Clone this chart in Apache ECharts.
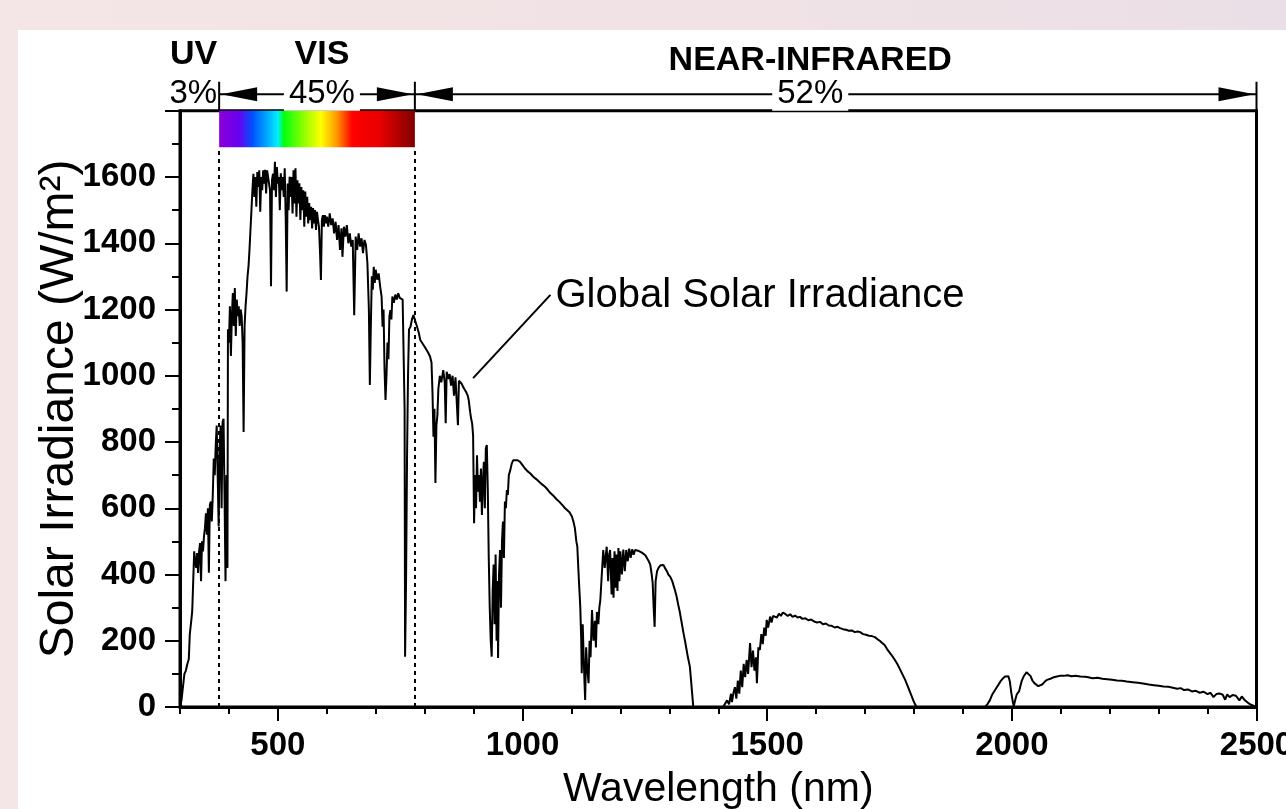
<!DOCTYPE html>
<html>
<head>
<meta charset="utf-8">
<script src="https://cdn.jsdelivr.net/npm/echarts@6/dist/echarts.min.js"></script>
<style>
  html, body { margin: 0; padding: 0; width: 1286px; height: 809px; overflow: hidden;
    background: linear-gradient(90deg, #f4e6e6 0%, #f1e3e5 50%, #ebdfe7 100%); }
  #chart { position: absolute; left: 18px; top: 30px; width: 1268px; height: 779px; background: #ffffff; }
</style>
</head>
<body>
<div id="chart"></div>
<script>
// ---- Data (wavelength nm, irradiance) ----
const spectrumUV = [[300,0],[303,20],[306,60],[309,100],[312,110],[315,130],[318,145],[320,220],[323,260],[325,290],[327,380],[329,470],[331,440],[333,420],[335,465],[337,405],[339,470],[341,495],[343,380],[345,500],[347,470],[349,515],[351,540],[353,585],[355,520],[357,600],[359,405],[361,610],[363,620],[365,560],[367,640],[369,750],[371,700],[373,790],[375,850],[377,700],[379,545],[381,780],[383,850],[385,600],[387,860],[389,870],[391,640],[393,380],[395,700],[397,420]];
const spectrumVIS = [[398,1140],[400,1100],[402,1210],[404,1060],[406,1180],[408,1250],[410,1150],[412,1265],[414,1120],[416,1230],[418,1180],[420,1210],[422,1150],[424,1200],[426,1180],[428,1100],[430,830],[432,1150],[434,1210],[436,1250],[438,1300],[440,1330],[442,1380],[444,1440],[446,1500],[448,1560],[450,1610],[452,1540],[454,1600],[456,1510],[458,1615],[460,1570],[462,1620],[464,1495],[466,1600],[468,1560],[470,1620],[472,1580],[474,1622],[476,1550],[478,1620],[480,1600],[482,1580],[484,1560],[486,1270],[488,1590],[490,1610],[492,1560],[494,1646],[496,1540],[498,1630],[500,1580],[502,1600],[504,1500],[506,1611],[508,1560],[510,1600],[512,1540],[514,1626],[516,1480],[518,1254],[520,1580],[522,1500],[524,1601],[526,1540],[528,1600],[530,1490],[532,1620],[534,1520],[536,1626],[538,1480],[540,1590],[542,1520],[544,1581],[546,1470],[548,1570],[550,1500],[552,1560],[554,1450],[556,1556],[558,1480],[560,1540],[562,1460],[564,1521],[566,1470],[568,1510],[570,1445],[572,1506],[574,1460],[576,1500],[578,1440],[580,1495],[582,1470],[584,1450],[586,1380],[588,1289],[590,1470],[592,1485],[594,1450],[596,1485],[598,1460],[600,1480],[603,1450],[606,1490],[609,1455],[612,1475],[615,1430],[618,1465],[621,1410],[624,1455],[627,1380],[630,1445],[632,1359],[635,1450],[638,1420],[641,1455],[644,1400],[647,1430],[650,1390],[653,1410],[656,1183],[659,1420],[662,1380],[665,1430],[668,1390],[671,1415],[674,1370],[677,1410],[680,1395],[683,1340],[686,1200],[688,972],[690,1150],[692,1300],[694,1260],[696,1329],[698,1280],[700,1320],[703,1290],[706,1309],[709,1270],[712,1239],[714,1148],[716,1200],[718,1020],[720,927],[722,1000],[724,1100],[726,1050],[728,1180],[730,1198],[732,1170],[734,1239],[737,1220],[740,1245],[743,1230],[746,1249],[749,1235],[752,1240],[755,1230],[757,1229],[759,900],[760,152],[762,380],[764,755],[766,1000],[768,1140],[771,1148],[774,1170],[777,1183],[780,1180]];
const spectrumNIR1 = [[784,1150],[788,1130],[791,1108],[795,1110],[799,1090],[803,1080],[807,1070],[811,1058],[814,1040],[816,950],[818,816],[820,900],[822,676],[824,850],[826,880],[828,960],[831,1000],[834,980],[838,1017],[841,980],[843,857],[845,1012],[848,990],[851,1005],[854,970],[857,1000],[860,940],[863,995],[866,997],[868,851],[870,985],[873,980],[876,975],[879,965],[882,960],[885,950],[888,940],[890,927],[893,890],[895,870],[897,857],[899,820],[901,555],[903,700],[905,600],[907,760],[909,650],[911,700],[913,620],[915,720],[917,580],[919,680],[921,740],[923,600],[925,780],[927,791],[929,660],[931,450],[933,300],[935,200],[937,152],[939,350],[941,430],[943,250],[945,460],[947,200],[949,380],[950,148],[952,400],[954,474],[956,300],[958,500],[960,560],[962,450],[964,620],[966,600],[968,655],[970,640],[972,700],[975,715],[978,735],[981,745],[985,751],[990,745],[995,740],[1000,730],[1005,720],[1010,712],[1016,705],[1022,695],[1028,688],[1034,680],[1040,672],[1046,665],[1052,655],[1057,646],[1063,638],[1069,628],[1075,620],[1081,610],[1087,600],[1091,595],[1096,588],[1101,575],[1104,560],[1107,540],[1110,500],[1112,484],[1114,420],[1116,360],[1118,303],[1120,200],[1121,102],[1123,250],[1125,150],[1127,60],[1128,21],[1130,180],[1132,120],[1135,72],[1137,200],[1139,150],[1142,293],[1145,200],[1148,260],[1150,180],[1152,287],[1155,250],[1157,300],[1159,323],[1162,400],[1165,474],[1168,420],[1172,484],[1175,380],[1177,460],[1179,474],[1182,340],[1184,450],[1186,330],[1188,470],[1190,360],[1192,460],[1194,350],[1196,480],[1198,380],[1200,470],[1203,400],[1206,475],[1209,410],[1212,474],[1215,440],[1218,478],[1221,450],[1224,476],[1227,460],[1230,474],[1233,470],[1236,472],[1240,469],[1244,466],[1248,462],[1251,458],[1254,459],[1258,440],[1261,430],[1264,400],[1266,374],[1268,300],[1270,242],[1272,380],[1275,410],[1278,420],[1282,428],[1285,430],[1288,429],[1291,420],[1295,410],[1298,400],[1302,393],[1306,380],[1309,365],[1312,350],[1315,333],[1318,310],[1321,290],[1324,265],[1327,240],[1329,223],[1332,200],[1335,175],[1338,150],[1342,122],[1345,70],[1349,0]];
const spectrumNIR2 = [[1410,0],[1414,0],[1418,20],[1422,8],[1426,40],[1428,15],[1431,42],[1434,60],[1437,25],[1440,80],[1443,40],[1446,110],[1449,60],[1452,130],[1455,90],[1458,142],[1461,100],[1465,193],[1468,120],[1471,170],[1474,110],[1477,150],[1479,72],[1482,180],[1485,172],[1488,220],[1491,190],[1494,240],[1497,215],[1499,263],[1502,240],[1506,273],[1509,255],[1512,275],[1516,278],[1520,270],[1524,282],[1528,275],[1532,285],[1537,281],[1542,275],[1547,280],[1552,272],[1557,276],[1562,270],[1567,272],[1572,266],[1578,268],[1584,262],[1590,264],[1596,258],[1602,255],[1608,257],[1614,250],[1620,252],[1626,246],[1632,245],[1638,240],[1644,242],[1649,238],[1655,235],[1661,233],[1667,230],[1673,231],[1679,226],[1685,228],[1690,226],[1696,220],[1702,218],[1708,215],[1714,214],[1720,211],[1725,205],[1730,200],[1735,193],[1740,187],[1745,175],[1750,165],[1755,155],[1761,142],[1766,130],[1771,115],[1776,100],[1782,82],[1788,60],[1792,45],[1796,30],[1800,15],[1805,0]];
const spectrumNIR3 = [[1945,0],[1950,8],[1955,20],[1960,38],[1966,52],[1972,66],[1977,78],[1981,85],[1986,92],[1990,96],[1993,93],[1996,76],[1999,42],[2002,15],[2004,3],[2007,22],[2010,38],[2015,48],[2020,78],[2024,92],[2027,98],[2030,105],[2034,100],[2038,94],[2042,80],[2046,72],[2050,66],[2054,63],[2057,60],[2062,68],[2067,76],[2072,82],[2080,86],[2086,90],[2092,92],[2098,94],[2106,94],[2114,96],[2122,93],[2130,94],[2140,92],[2150,91],[2156,90],[2165,87],[2175,88],[2185,85],[2195,84],[2205,82],[2215,80],[2225,79],[2235,77],[2247,75],[2258,73],[2268,71],[2280,68],[2290,66],[2300,64],[2310,62],[2320,61],[2329,58],[2338,55],[2345,57],[2352,51],[2360,53],[2368,47],[2376,49],[2384,43],[2392,46],[2400,39],[2406,43],[2412,30],[2418,39],[2424,41],[2431,37],[2436,22],[2440,38],[2445,30],[2451,36],[2458,34],[2465,20],[2470,32],[2475,22],[2479,16],[2485,10],[2490,6],[2500,0]];

// ---- Axis ticks / labels ----
const xMajorTicks = [500, 1000, 1500, 2000, 2500];
const xMinorTicks = [300, 400, 600, 700, 800, 900, 1100, 1200, 1300, 1400, 1600, 1700, 1800, 1900, 2100, 2200, 2300, 2400];

// ---- Band annotations ----
const bandBounds = [380, 780, 2500];          // UV|VIS, VIS|NIR, end of NIR
const bandNames = ['UV', 'VIS', 'NEAR-INFRARED'];
const bandShares = ['3%', '45%', '52%'];
const bandLabelNm = [380, 590, 1588];          // where each band's label sits
const visBarRange = [380, 780, 1690];          // colour bar: from nm, to nm, bottom value
const spectrumStops = [0, 0.1, 0.17, 0.25, 0.3, 0.33, 0.42, 0.52, 0.6, 0.68, 0.82, 1];
const spectrumColors = ['#8a00d8', '#6a00f0', '#0050ff', '#00b0ff', '#00f0ff', '#00ff10', '#80ff00', '#ffff00', '#ff9900', '#ff0000', '#e80000', '#800000'];

// ---- Leader annotation ----
const leaderFrom = [899, 993];
const leaderTo = [1057, 1244];
const leaderText = 'Global Solar Irradiance';

const FONT = "'Liberation Sans', Arial, sans-serif";
const spectrum = spectrumUV.concat(spectrumVIS, spectrumNIR1, spectrumNIR2, spectrumNIR3);

const chart = echarts.init(document.getElementById('chart'), null, { renderer: 'canvas' });

const option = {
  animation: false,
  backgroundColor: '#ffffff',
  grid: { left: 162, right: 29.5, top: 80.75, bottom: 102, outerBoundsMode: 'none', containLabel: false,
    show: true, borderColor: '#000', borderWidth: 3, backgroundColor: 'transparent' },
  xAxis: [
    {
      type: 'value', min: 300, max: 2500, position: 'bottom',
      name: 'Wavelength (nm)', nameLocation: 'middle', nameGap: 62, nameMoveOverlap: false,
      nameTextStyle: { fontFamily: FONT, fontSize: 41, color: '#000' },
      axisLine: { show: true, lineStyle: { color: '#000', width: 3 } },
      axisTick: { show: true, customValues: xMajorTicks, length: 14, lineStyle: { color: '#000', width: 2 } },
      axisLabel: { show: true, customValues: xMajorTicks, margin: 22, fontFamily: FONT, fontSize: 33, fontWeight: 'bold', color: '#000',
        formatter: v => String(v) },
      splitLine: { show: false }
    },
    {
      type: 'value', min: 300, max: 2500, position: 'bottom', gridIndex: 0,
      axisLine: { show: false },
      axisTick: { show: true, customValues: xMinorTicks, length: 7, lineStyle: { color: '#000', width: 2 } },
      axisLabel: { show: false },
      splitLine: { show: false }
    }
  ],
  yAxis: {
    type: 'value', min: 0, max: 1800, interval: 200,
    name: 'Solar Irradiance (W/m²)', nameLocation: 'middle', nameGap: 96, nameMoveOverlap: false,
    nameTextStyle: { fontFamily: FONT, fontSize: 48, color: '#000' },
    axisLine: { show: true, lineStyle: { color: '#000', width: 3 } },
    axisTick: { show: true, length: 15, lineStyle: { color: '#000', width: 2 } },
    minorTick: { show: true, splitNumber: 2, length: 8, lineStyle: { color: '#000', width: 2 } },
    axisLabel: { margin: 24, fontFamily: FONT, fontSize: 33, fontWeight: 'bold', color: '#000',
      formatter: v => (v === 1800 ? '' : String(v)) },
    splitLine: { show: false }
  },
  series: [{
    type: 'line',
    name: 'Global Solar Irradiance',
    data: spectrum,
    xAxisIndex: 0, yAxisIndex: 0,
    showSymbol: false, symbol: 'none',
    lineStyle: { color: '#000', width: 2 },
    silent: true,
    markArea: {
      silent: true,
      label: { show: false },
      data: [[
        { coord: [visBarRange[0], visBarRange[2]],
          itemStyle: { color: new echarts.graphic.LinearGradient(0, 0, 1, 0,
            spectrumStops.map((o, i) => ({ offset: o, color: spectrumColors[i] }))) } },
        { coord: [visBarRange[1], 1800] }
      ]]
    },
    markLine: {
      silent: true, symbol: ['none', 'none'],
      label: { show: false },
      data: [
        [{ coord: [bandBounds[0], 0], lineStyle: { color: '#000', width: 2, type: [4, 4] } }, { coord: [bandBounds[0], visBarRange[2]] }],
        [{ coord: [bandBounds[1], 0], lineStyle: { color: '#000', width: 2, type: [4, 4] } }, { coord: [bandBounds[1], visBarRange[2]] }],
        [{ coord: leaderFrom, lineStyle: { color: '#000', width: 2, type: 'solid' } }, { coord: leaderTo }]
      ]
    }
  }]
};
chart.setOption(option);

// ---- Header brackets and annotation text, positioned through the axes ----
function px(x, y) { return chart.convertToPixel({ xAxisIndex: 0, yAxisIndex: 0 }, [x, y]); }
const topY = px(300, 1800)[1];
const bx = bandBounds.map(b => px(b, 0)[0]);
const lineY = topY - 16.5;
const els = [];
const black = { stroke: '#000', lineWidth: 2 };
// vertical boundary markers
bx.forEach(x => els.push({ type: 'line', shape: { x1: x, y1: topY - 29, x2: x, y2: topY }, style: black }));
// horizontal bracket lines with arrowheads (VIS and NIR)
function arrow(xTip, dir) {
  const L = 36, H = 7;
  return { type: 'polygon', shape: { points: [[xTip, lineY], [xTip + dir * L, lineY - H], [xTip + dir * L, lineY + H]] }, style: { fill: '#000' } };
}
[[bx[0], bx[1]], [bx[1], bx[2]]].forEach(([a, b]) => {
  els.push({ type: 'line', shape: { x1: a, y1: lineY, x2: b, y2: lineY }, style: black });
  els.push(arrow(a + 2, 1));
  els.push(arrow(b - 2, -1));
});
// percent texts
const pctStyle = { font: `33px ${FONT}`, fill: '#000', verticalAlign: 'middle', backgroundColor: '#fff', padding: [0, 5] };
els.push({ type: 'text', z: 10, style: Object.assign({}, pctStyle, { text: bandShares[0], x: bx[0] - 2, y: lineY, align: 'right', padding: [0, 0], backgroundColor: 'transparent' }) });
els.push({ type: 'text', z: 10, style: Object.assign({}, pctStyle, { text: bandShares[1], x: px(bandLabelNm[1], 0)[0], y: lineY, align: 'center' }) });
els.push({ type: 'text', z: 10, style: Object.assign({}, pctStyle, { text: bandShares[2], x: px(bandLabelNm[2], 0)[0], y: lineY, align: 'center' }) });
// band names
const nameStyle = { font: `bold 34px ${FONT}`, fill: '#000', verticalAlign: 'middle' };
els.push({ type: 'text', style: Object.assign({}, nameStyle, { text: bandNames[0], x: bx[0] - 2, y: topY - 56, align: 'right' }) });
els.push({ type: 'text', style: Object.assign({}, nameStyle, { text: bandNames[1], x: px(bandLabelNm[1], 0)[0], y: topY - 56, align: 'center' }) });
els.push({ type: 'text', style: Object.assign({}, nameStyle, { text: bandNames[2], x: px(bandLabelNm[2], 0)[0], y: topY - 50, align: 'center' }) });
// leader label
const lt = px(leaderTo[0], leaderTo[1]);
els.push({ type: 'text', style: { text: leaderText, x: lt[0] + 5, y: lt[1] + 1, align: 'left', verticalAlign: 'middle', font: `40px ${FONT}`, fill: '#000' } });

chart.setOption({ graphic: { elements: els } });
</script>
</body>
</html>
